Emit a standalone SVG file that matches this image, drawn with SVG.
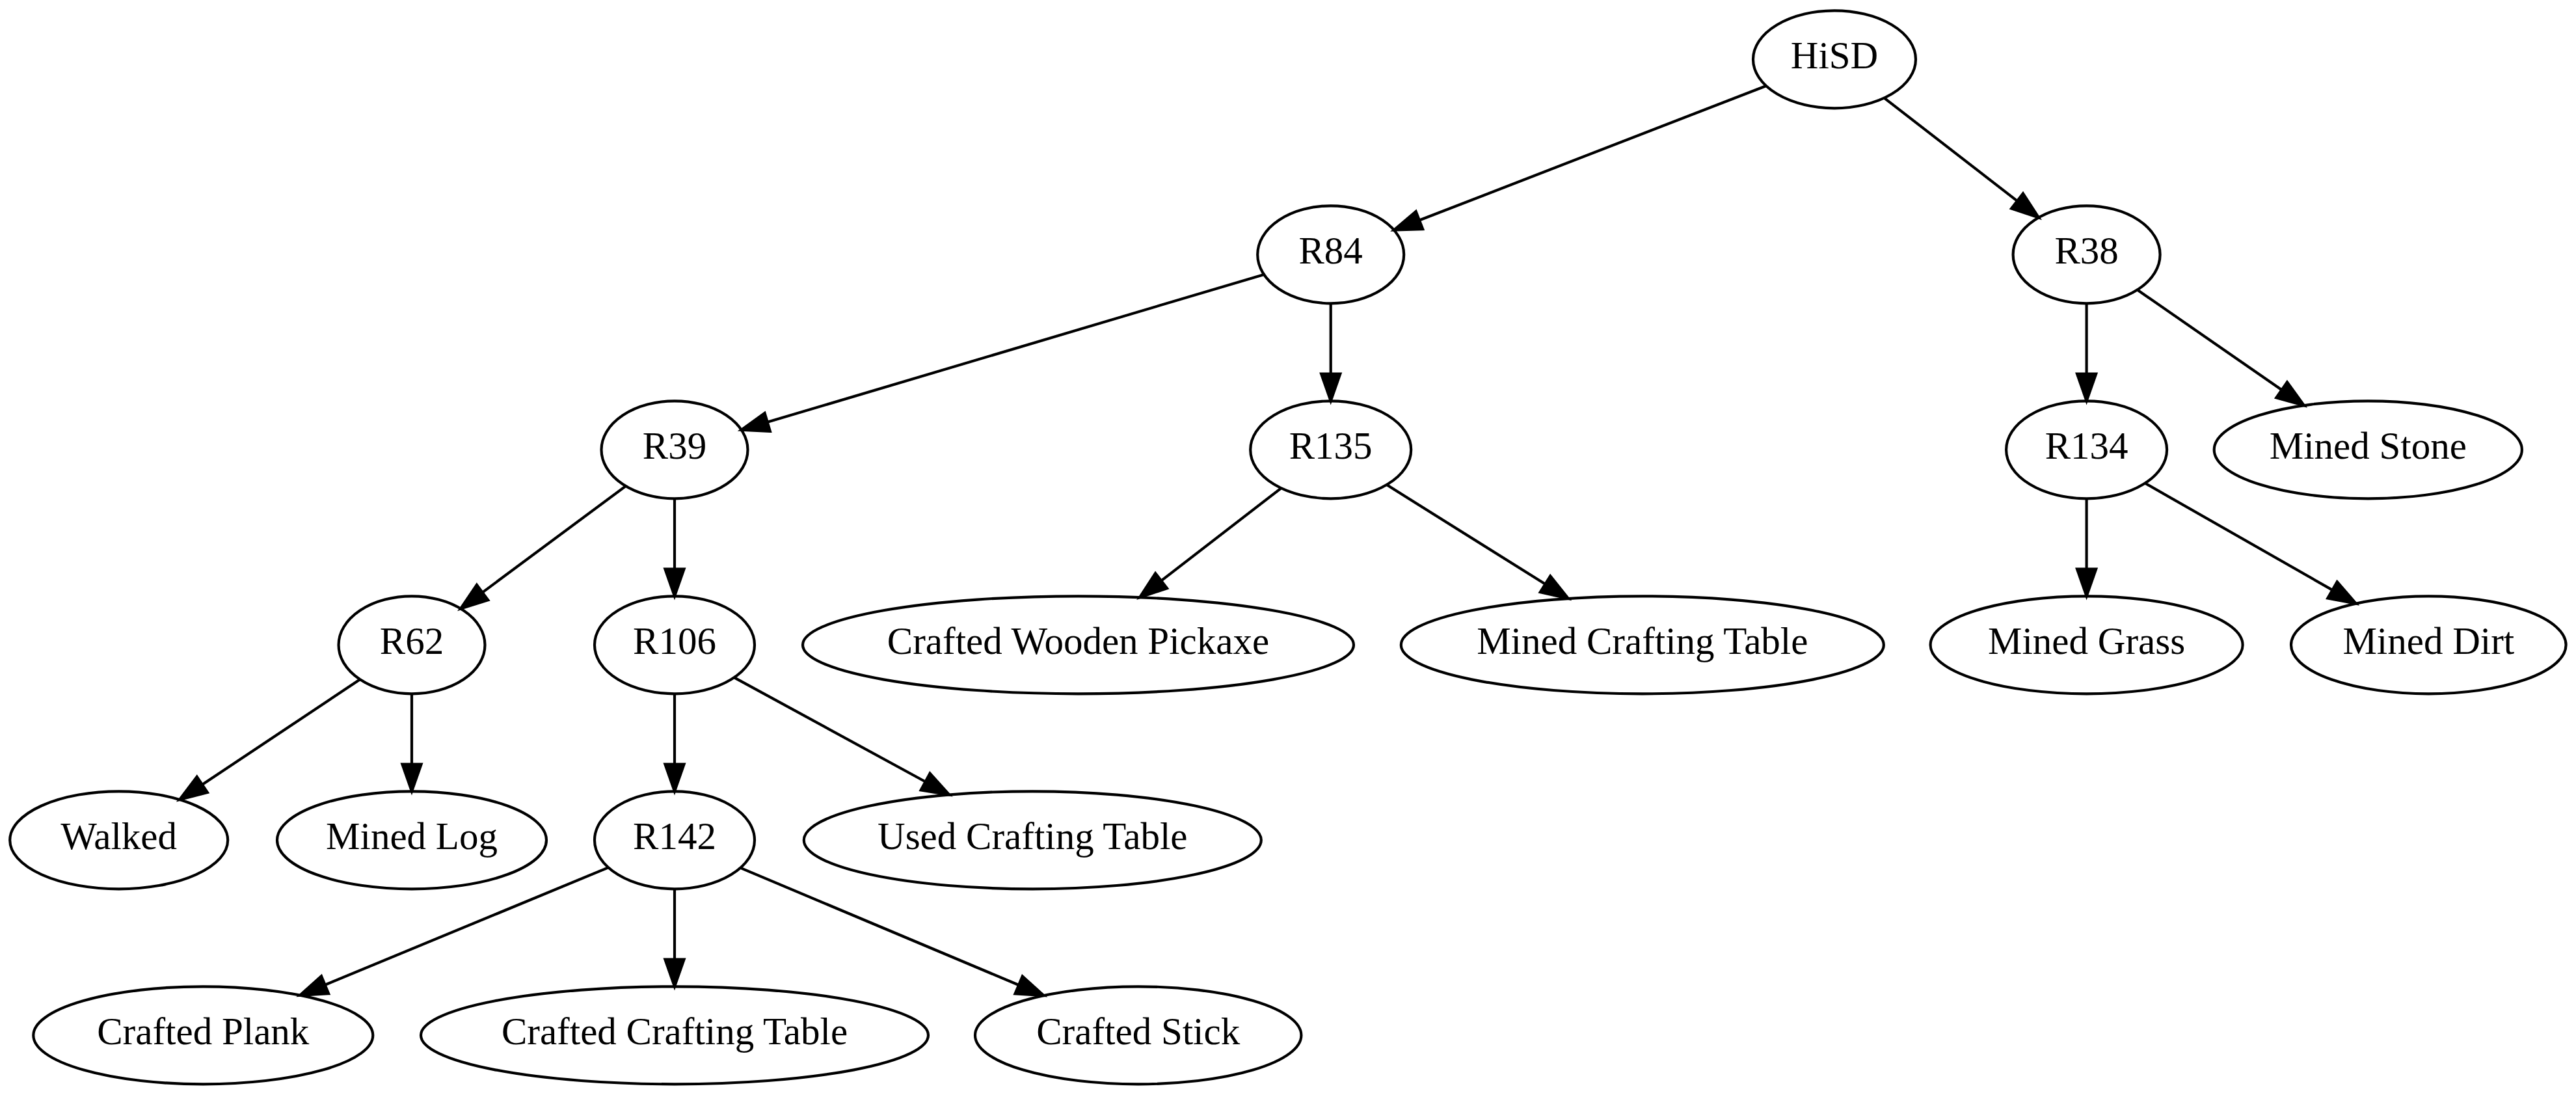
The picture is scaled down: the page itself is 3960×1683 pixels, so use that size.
<svg xmlns="http://www.w3.org/2000/svg" width="3960" height="1683" viewBox="0 0 3960 1683">
<style>
.n ellipse{fill:none;stroke:#000;stroke-width:4.17}
.n text{font-family:"Liberation Serif","Times New Roman",serif;font-size:59px;text-anchor:middle;fill:#000}
#edges path{fill:none;stroke:#000;stroke-width:4.17;marker-end:url(#ah)}
</style>
<defs>
<marker id="ah" markerUnits="userSpaceOnUse" markerWidth="50" markerHeight="40" refX="0" refY="20" orient="auto" overflow="visible">
<path d="M0,5.4 L41.7,20 L0,34.6 Z" fill="#000" stroke="#000" stroke-width="4.17" stroke-linejoin="miter"/>
</marker>
</defs>
<rect width="3960" height="1683" fill="#fff"/>
<g id="edges">
<path d="M2715,132 L2181.9,338.5"/>
<path d="M2896.6,150.6 L3101,308.9"/>
<path d="M1943,421.9 L1179.7,648.8"/>
<path d="M2045.7,466.3 L2045.7,574.6"/>
<path d="M3207.6,466.3 L3207.6,574.6"/>
<path d="M3285.7,445.5 L3507.6,599.3"/>
<path d="M961.9,747.1 L741.6,910.6"/>
<path d="M1037,766.3 L1037,874.6"/>
<path d="M1969.4,750.3 L1785.1,892.7"/>
<path d="M2131.7,745.1 L2375.5,897.8"/>
<path d="M3207.6,766.3 L3207.6,874.6"/>
<path d="M3297.6,742.7 L3585.5,906.9"/>
<path d="M553.4,1044.3 L310.8,1205.9"/>
<path d="M633,1066.3 L633,1174.6"/>
<path d="M1037,1066.3 L1037,1174.6"/>
<path d="M1128.7,1041.3 L1422.6,1201.5"/>
<path d="M935.2,1333.4 L499.6,1513.8"/>
<path d="M1037,1366.3 L1037,1474.6"/>
<path d="M1138.2,1333.9 L1566.1,1514"/>
</g>
<g id="HiSD" class="n"><ellipse cx="2820" cy="91.3" rx="125" ry="75"/><text x="2820" y="105.3">HiSD</text></g>
<g id="R84" class="n"><ellipse cx="2045.7" cy="391.3" rx="112.5" ry="75"/><text x="2045.7" y="405.3">R84</text></g>
<g id="R38" class="n"><ellipse cx="3207.6" cy="391.3" rx="113" ry="75"/><text x="3207.6" y="405.3">R38</text></g>
<g id="R39" class="n"><ellipse cx="1037" cy="691.3" rx="112.5" ry="75"/><text x="1037" y="705.3">R39</text></g>
<g id="R135" class="n"><ellipse cx="2045.7" cy="691.3" rx="123.5" ry="75"/><text x="2045.7" y="705.3">R135</text></g>
<g id="R134" class="n"><ellipse cx="3207.6" cy="691.3" rx="123.5" ry="75"/><text x="3207.6" y="705.3">R134</text></g>
<g id="MinedStone" class="n"><ellipse cx="3640.3" cy="691.3" rx="236.6" ry="75"/><text x="3640.3" y="705.3">Mined Stone</text></g>
<g id="R62" class="n"><ellipse cx="633" cy="991.3" rx="112.5" ry="75"/><text x="633" y="1005.3">R62</text></g>
<g id="R106" class="n"><ellipse cx="1037" cy="991.3" rx="123" ry="75"/><text x="1037" y="1005.3">R106</text></g>
<g id="CraftedWoodenPickaxe" class="n"><ellipse cx="1657.5" cy="991.3" rx="423.5" ry="75"/><text x="1657.5" y="1005.3">Crafted Wooden Pickaxe</text></g>
<g id="MinedCraftingTable" class="n"><ellipse cx="2524.8" cy="991.3" rx="371" ry="75"/><text x="2524.8" y="1005.3">Mined Crafting Table</text></g>
<g id="MinedGrass" class="n"><ellipse cx="3207.6" cy="991.3" rx="240" ry="75"/><text x="3207.6" y="1005.3">Mined Grass</text></g>
<g id="MinedDirt" class="n"><ellipse cx="3733.3" cy="991.3" rx="211.3" ry="75"/><text x="3733.3" y="1005.3">Mined Dirt</text></g>
<g id="Walked" class="n"><ellipse cx="182.7" cy="1291.3" rx="167.5" ry="75"/><text x="182.7" y="1305.3">Walked</text></g>
<g id="MinedLog" class="n"><ellipse cx="633" cy="1291.3" rx="207" ry="75"/><text x="633" y="1305.3">Mined Log</text></g>
<g id="R142" class="n"><ellipse cx="1037" cy="1291.3" rx="123" ry="75"/><text x="1037" y="1305.3">R142</text></g>
<g id="UsedCraftingTable" class="n"><ellipse cx="1587.3" cy="1291.3" rx="351.5" ry="75"/><text x="1587.3" y="1305.3">Used Crafting Table</text></g>
<g id="CraftedPlank" class="n"><ellipse cx="312.3" cy="1591.3" rx="261" ry="75"/><text x="312.3" y="1605.3">Crafted Plank</text></g>
<g id="CraftedCraftingTable" class="n"><ellipse cx="1037" cy="1591.3" rx="390" ry="75"/><text x="1037" y="1605.3">Crafted Crafting Table</text></g>
<g id="CraftedStick" class="n"><ellipse cx="1749.7" cy="1591.3" rx="250.7" ry="75"/><text x="1749.7" y="1605.3">Crafted Stick</text></g>
</svg>
